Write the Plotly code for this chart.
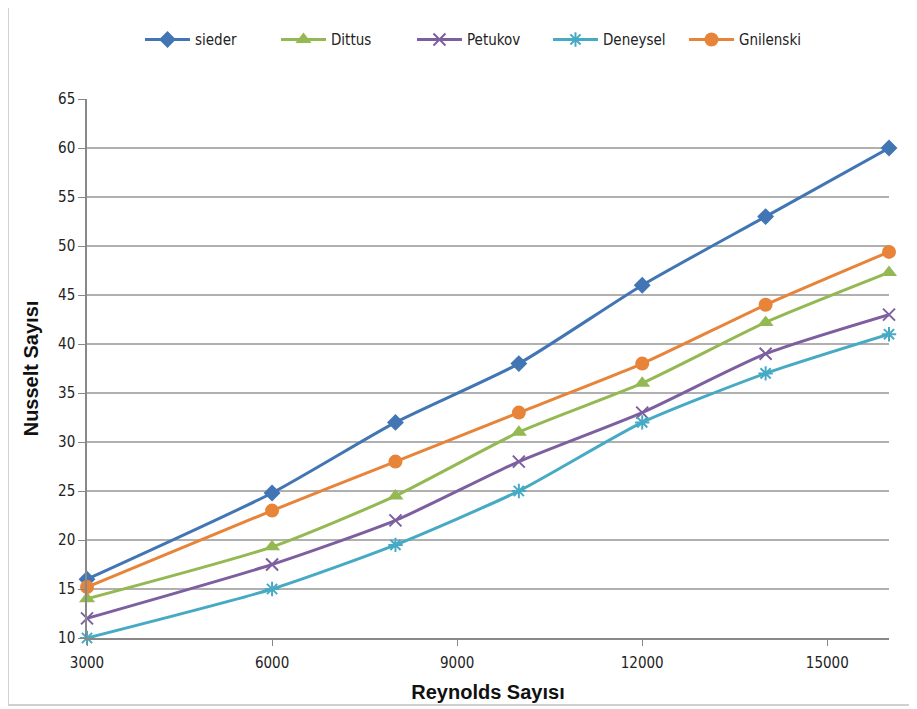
import plotly.graph_objects as go

reynolds = [3000, 6000, 8000, 10000, 12000, 14000, 16000]
sieder = [16, 24.8, 32, 38, 46, 53, 60]
dittus = [14, 19.3, 24.5, 31, 36, 42.2, 47.3]
petukov = [12, 17.5, 22, 28, 33, 39, 43]
deneysel = [10, 15, 19.5, 25, 32, 37, 41]
gnilenski = [15.2, 23, 28, 33, 38, 44, 49.4]

x_ticks = [3000, 6000, 9000, 12000, 15000]
x_tick_labels = ["3000", "6000", "9000", "12000", "15000"]
y_ticks = [10, 15, 20, 25, 30, 35, 40, 45, 50, 55, 60, 65]

series = [
    ("sieder", sieder, "#4175B4", dict(symbol="diamond", size=13)),
    ("Dittus", dittus, "#94B852", dict(symbol="triangle-up", size=14)),
    ("Petukov", petukov, "#7D5FA0", dict(symbol="x-thin-open", size=12, line=dict(width=2, color="#7D5FA0"))),
    ("Deneysel", deneysel, "#46AAC4", dict(symbol="asterisk-open", size=12, line=dict(width=2, color="#46AAC4"))),
    ("Gnilenski", gnilenski, "#E8843A", dict(symbol="circle", size=14)),
]

fig = go.Figure()
for name, vals, color, mk in series:
    mk = dict(mk)
    mk["color"] = color
    fig.add_trace(go.Scatter(
        x=reynolds, y=vals, name=name, mode="lines+markers",
        line=dict(color=color, width=3, shape="spline", smoothing=0.6),
        marker=mk, cliponaxis=False,
    ))

fig.update_layout(
    width=917, height=709,
    margin=dict(l=79, r=36, t=91, b=79),
    paper_bgcolor="white", plot_bgcolor="white",
    font=dict(family="DejaVu Sans Condensed, Liberation Sans, sans-serif", size=15, color="#222"),
    showlegend=True,
    legend=dict(orientation="h", x=0.49, xanchor="center", y=1.11, yanchor="middle",
                font=dict(size=15), itemwidth=45, tracegroupgap=0, entrywidth=76),
    xaxis=dict(range=[3000, 16000], tickvals=x_ticks, ticktext=x_tick_labels, showgrid=False,
               showline=True, linecolor="#888", linewidth=1.5, automargin=False,
               ticks="outside", ticklen=6, tickcolor="#888", ticklabelstandoff=4,
               title=dict(text="<b>Reynolds Sayısı</b>", font=dict(family="Liberation Sans, Arial", size=20, color="#111"), standoff=14),
               zeroline=False),
    yaxis=dict(range=[10, 65], tickvals=y_ticks, showgrid=True, gridcolor="#b0b0b0", gridwidth=1.5,
               showline=True, linecolor="#888", linewidth=1.5, automargin=False,
               ticks="outside", ticklen=7, tickcolor="#888",
               title=dict(text="<b>Nusselt Sayısı</b>", font=dict(family="Liberation Sans, Arial", size=20, color="#111"), standoff=14),
               zeroline=False),
)

fig.add_shape(type="rect", xref="paper", yref="paper",
              x0=-0.0985, x1=1.0287, y0=-0.1243, y1=1.18,
              line=dict(color="#d0d0d0", width=2), layer="below")

fig.write_html("out.html")
